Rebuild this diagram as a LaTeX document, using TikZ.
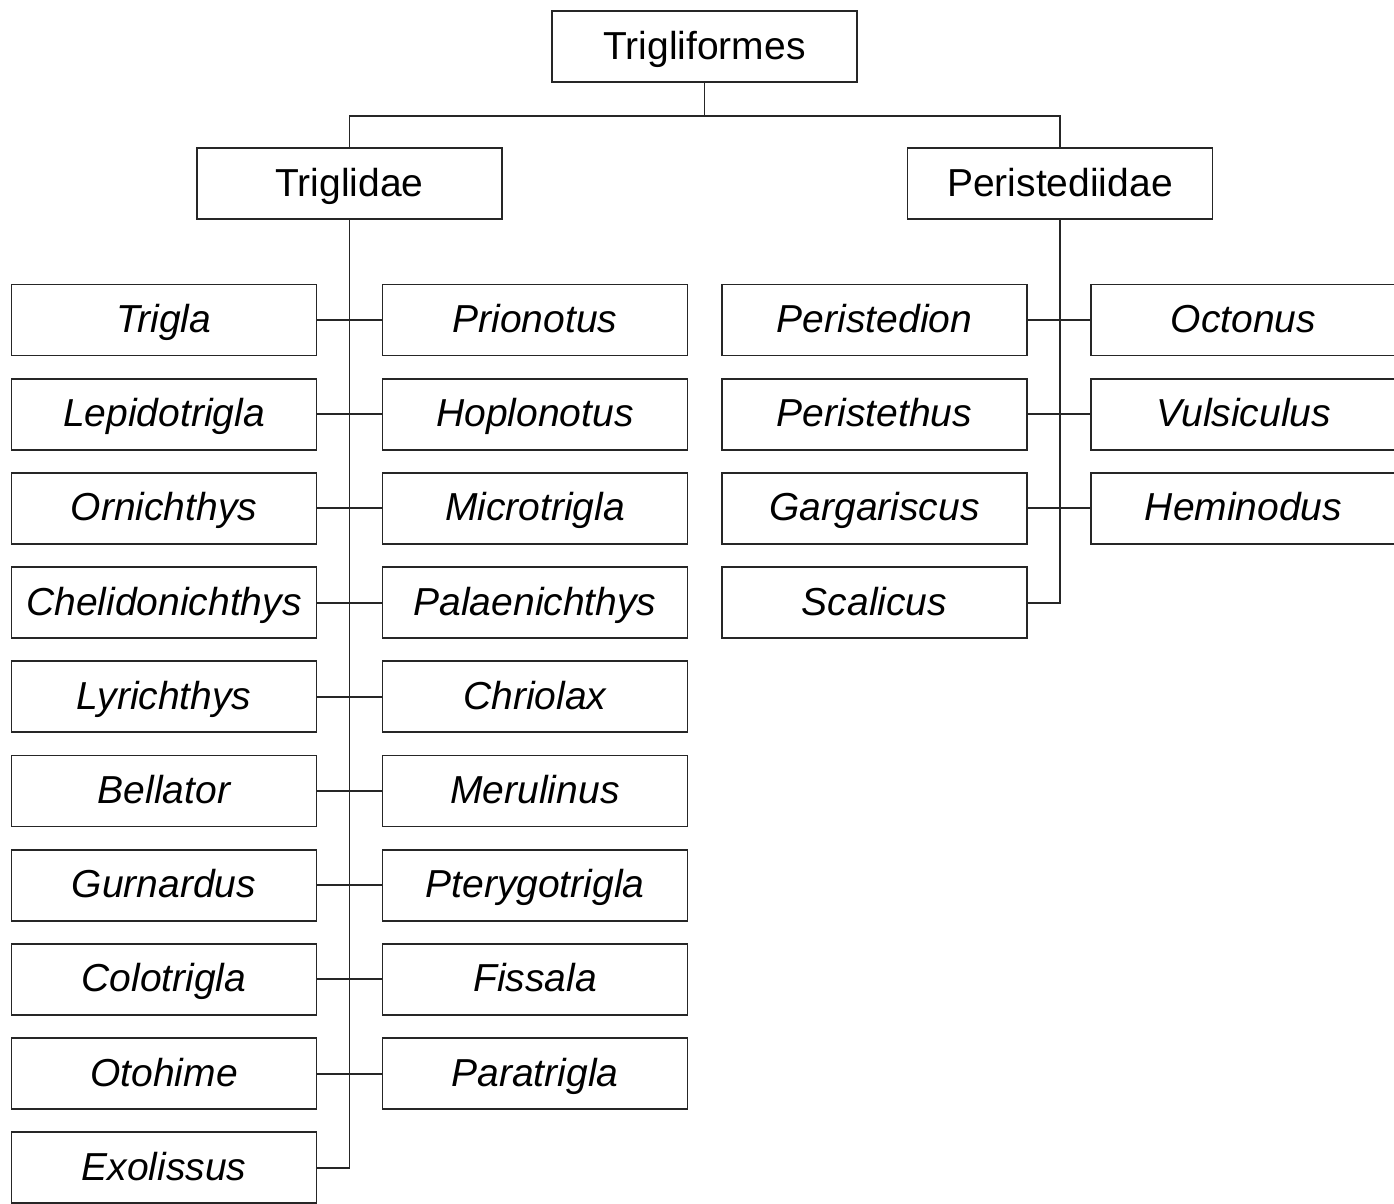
\documentclass[tikz,border=0pt]{standalone}
\usepackage{fontspec}
\setmainfont{Liberation Sans}
\begin{document}
\begin{tikzpicture}[x=1pt,y=-1pt,
  box/.style={draw=black!85, line width=1.9pt, minimum width=305pt, minimum height=71pt,
    inner sep=0pt, text height=28pt, text depth=3pt, font=\fontsize{39}{46}\selectfont},
  genus/.style={box, font=\fontsize{39}{46}\selectfont\itshape},
  link/.style={draw=black!85, line width=1.9pt}]
\clip (0,0) rectangle (1394,1203);
\fill[white] (0,0) rectangle (1394,1203);
\coordinate (bus) at (0,116);
% top levels
\node[box] (top) at (704.5,46.5) {Trigliformes};
\node[box] (tri) at (349.5,183.5) {Triglidae};
\node[box] (per) at (1060,183.5) {Peristediidae};
\draw[link] (top.south) -- (top.south |- bus);
\draw[link] (tri.north) -- (tri.north |- bus) -- (per.north |- bus) -- (per.north);
% Triglidae genera
\foreach \i/\lt/\rt [evaluate=\i as \yy using 320+(\i-1)*94.2] in
  {1/Trigla/Prionotus, 2/Lepidotrigla/Hoplonotus, 3/Ornichthys/Microtrigla,
   4/Chelidonichthys/Palaenichthys, 5/Lyrichthys/Chriolax, 6/Bellator/Merulinus,
   7/Gurnardus/Pterygotrigla, 8/Colotrigla/Fissala, 9/Otohime/Paratrigla} {
  \node[genus] (L\i) at (164,\yy) {\lt};
  \node[genus] (R\i) at (535,\yy) {\rt};
  \draw[link] (L\i.east) -- (R\i.west);
}
\node[genus] (L10) at (164,1167.8) {Exolissus};
\draw[link] (tri.south) -- (tri.south |- L10.east) -- (L10.east);
% Peristediidae genera
\foreach \i/\lt/\rt [evaluate=\i as \yy using 320+(\i-1)*94.2] in
  {1/Peristedion/Octonus, 2/Peristethus/Vulsiculus, 3/Gargariscus/Heminodus} {
  \node[genus] (PL\i) at (874.5,\yy) {\lt};
  \node[genus] (PR\i) at (1243.5,\yy) {\rt};
  \draw[link] (PL\i.east) -- (PR\i.west);
}
\node[genus] (PL4) at (874.5,602.6) {Scalicus};
\draw[link] (per.south) -- (per.south |- PL4.east) -- (PL4.east);
\end{tikzpicture}
\end{document}
